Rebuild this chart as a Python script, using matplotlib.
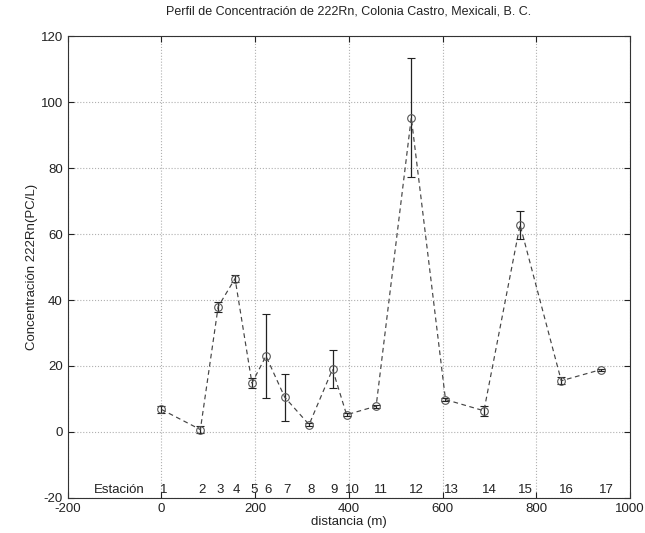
import matplotlib
matplotlib.use("Agg")
import matplotlib.pyplot as plt

plt.rcParams['font.family'] = ['Liberation Sans', 'DejaVu Sans']
plt.rcParams['axes.unicode_minus'] = False

stations = ["1", "2", "3", "4", "5", "6", "7", "8", "9", "10", "11", "12", "13", "14", "15", "16", "17"]
distance = [0, 83, 121, 157, 193, 223, 263, 315, 365, 395, 458, 533, 606, 688, 765, 853, 938]
concentration = [6.8, 0.7, 38.0, 46.5, 14.8, 23.0, 10.5, 2.2, 19.0, 5.2, 7.8, 95.3, 9.8, 6.4, 62.8, 15.5, 18.9]
error = [1.0, 1.0, 1.5, 1.0, 1.5, 12.7, 7.2, 0.5, 5.8, 0.5, 0.5, 18.0, 0.5, 1.5, 4.2, 1.0, 0.3]

xticks = [-200, 0, 200, 400, 600, 800, 1000]
yticks = [-20, 0, 20, 40, 60, 80, 100, 120]

fig = plt.figure(figsize=(6.45, 5.33), dpi=100)
ax = fig.add_axes([0.105, 0.066, 0.872, 0.866])

ax.errorbar(distance, concentration, yerr=error, fmt='none', ecolor='#222222',
            elinewidth=0.9, capsize=3, capthick=0.8, zorder=3)
ax.plot(distance, concentration, linestyle=(0, (4, 3)), color='#444444',
        linewidth=0.85, marker='o', markersize=5.5, markerfacecolor='none',
        markeredgecolor='#555555', markeredgewidth=0.8, zorder=4)

ax.set_xlim(-200, 1000)
ax.set_ylim(-20, 120)
ax.set_xticks(xticks)
ax.set_yticks(yticks)
ax.tick_params(direction='in', top=True, right=True, labelsize=9.5, length=4,
               colors='#222222')
ax.grid(True, linestyle=':', color='#b0b0b0', linewidth=0.8)

for sp in ax.spines.values():
    sp.set_color('#333333')
    sp.set_linewidth(0.8)

ax.text(-145, -17.5, "Estación", fontsize=9.5, ha='left', va='center', color='#222222')
for d, s in zip(distance, stations):
    ax.text(d - 4, -17.5, s, fontsize=9.5, ha='left', va='center', color='#222222')

ax.set_title("Perfil de Concentración de 222Rn, Colonia Castro, Mexicali, B. C.",
             fontsize=9, color='#222222', pad=16)
ax.set_xlabel("distancia (m)", fontsize=9.5, labelpad=1, color='#222222')
ax.set_ylabel("Concentración 222Rn(PC/L)", fontsize=9.5, labelpad=2, color='#222222')

fig.savefig("out.png", dpi=100)
